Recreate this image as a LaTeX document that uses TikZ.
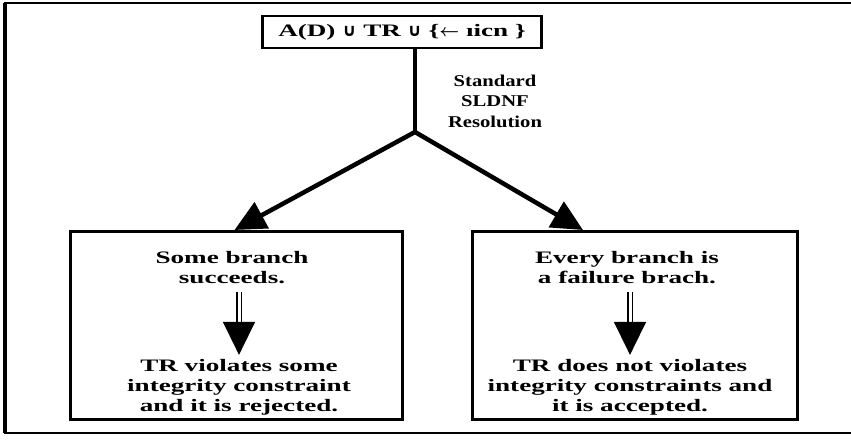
\documentclass[tikz,border=0pt]{standalone}
\usepackage{amsmath,amssymb}
\usepackage{fontspec}
\setmainfont{Liberation Serif}[FakeStretch=1.55]
\newfontfamily\lblfont{Liberation Serif}[FakeStretch=1.25]
\newfontfamily\symfont{DejaVu Sans}
\usetikzlibrary{arrows.meta,positioning}

\tikzset{
    txt/.style={align=center, inner sep=0pt, font=\fontsize{17.5}{20}\selectfont\bfseries},
    panel/.style={draw, line width=3pt, anchor=north west, inner sep=0pt},
    branch/.style={line width=4.5pt, -{Triangle[length=31pt,width=29pt]}},
    dbl/.style={double, double distance=3pt, line width=1.5pt, -{Triangle[length=33pt,width=32pt]}},
}

\begin{document}
\begin{tikzpicture}[x=1pt,y=-1pt]
\useasboundingbox (0,0) rectangle (851,439);

% frame
\draw[line width=2pt] (851,3) -- (5,3) -- (5,433) -- (851,433);
\draw[line width=4pt] (5,3) -- (5,433);

% top goal
\node[draw, line width=2.5pt, minimum width=279pt, minimum height=32pt, inner sep=0pt,
    font=\fontsize{17.5}{20}\selectfont\bfseries] (goal) at (402,32)
    {A(D) {\symfont ∪} TR {\symfont ∪} \{$\boldsymbol{\leftarrow}$ ıicn \}};

\coordinate (fork) at (415,132);
\node[txt, font=\fontsize{16.5}{20.5}\selectfont\lblfont\bfseries] (sldnf) at (495,101) {Standard\\SLDNF\\Resolution};

% the two outcomes
\node[panel, minimum width=332pt, minimum height=188pt] (lbox) at (69,230) {};
\node[panel, minimum width=325pt, minimum height=188pt] (rbox) at (471,230) {};
\coordinate (rhit) at ([xshift=112pt]rbox.north west);

\node[txt] (succ) at (232,268) {Some branch\\succeeds.};
\node[txt] (rej) at (239,387) {TR violates some\\integrity constraint\\and it is rejected.};
\node[txt] (fail) at (627,268) {Every branch is\\a failure brach.};
\node[txt] (acc) at (630,387) {TR does not violates\\integrity constraints and\\it is accepted.};

\draw[line width=4.5pt] (goal.south -| fork) -- (fork);
\draw[branch] (fork) -- ([xshift=-2pt]lbox.north);
\draw[branch] (fork) -- (rhit);

\draw[dbl] ([yshift=-8pt]rej.north |- succ.south) -- ([yshift=4pt]rej.north);
\draw[dbl] ([yshift=-8pt]acc.north |- fail.south) -- ([yshift=4pt]acc.north);
\end{tikzpicture}
\end{document}
